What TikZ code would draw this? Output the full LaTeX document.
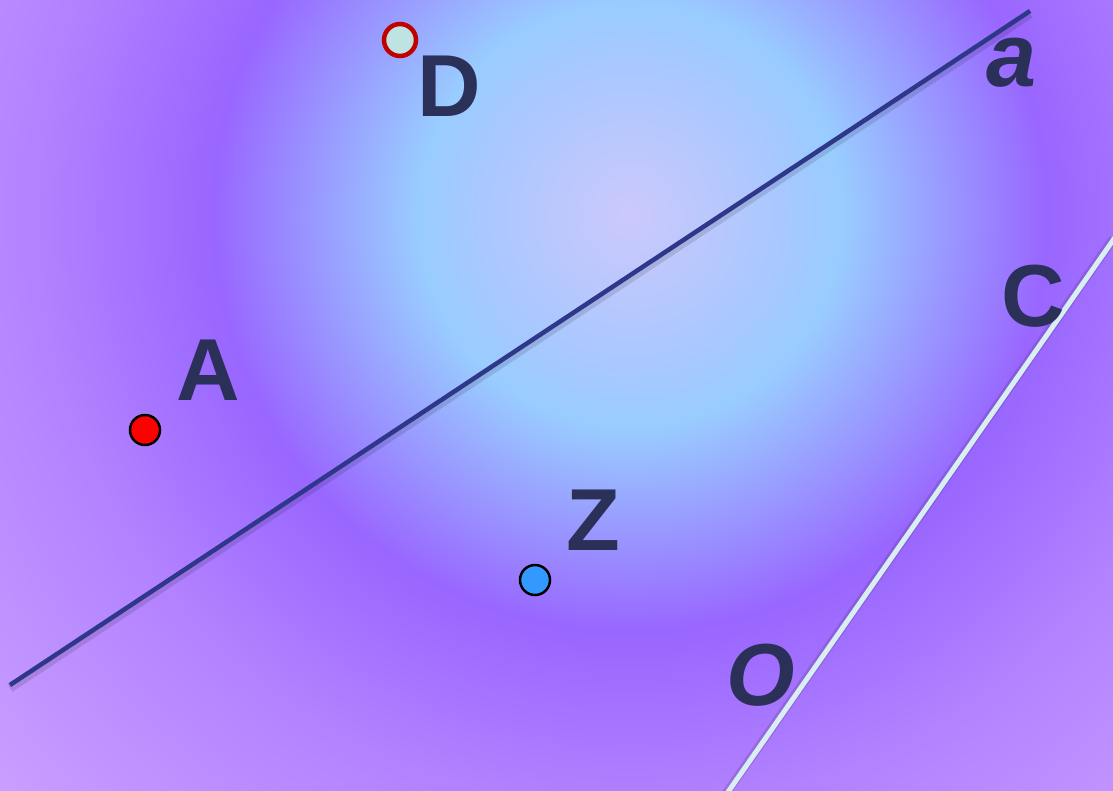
\documentclass[tikz,border=0pt]{standalone}
\usepackage{fontspec}
\setmainfont{Liberation Sans}

\definecolor{labelnavy}{HTML}{2B3058}
\definecolor{linenavy}{HTML}{2E378A}
\definecolor{linepale}{HTML}{D8EEF0}
\definecolor{bgcenter}{HTML}{CCC8FC}
\definecolor{bgpale}{HTML}{A8C8FF}
\definecolor{bgsky}{HTML}{99CCFF}
\definecolor{bgviolet}{HTML}{9966FF}
\definecolor{bgmauve}{HTML}{B282FF}
\definecolor{bgouter}{HTML}{C89EFF}
\definecolor{pointred}{HTML}{FF0000}
\definecolor{pointblue}{HTML}{3399FF}
\definecolor{pointring}{HTML}{C00000}
\definecolor{pointmint}{HTML}{BFE3E0}

\pgfdeclareradialshading{backglow}{\pgfpoint{0bp}{0bp}}{%
  color(0bp)=(bgcenter);
  color(4.2bp)=(bgpale);
  color(5.9bp)=(bgsky);
  color(11.6bp)=(bgviolet);
  color(16.5bp)=(bgmauve);
  color(23.6bp)=(bgouter);
  color(50bp)=(bgouter)}

\begin{document}
\begin{tikzpicture}[
  x=1pt,
  y=-1pt,
  lbl/.style={
      text=labelnavy,
      font=\fontsize{88}{88}\selectfont\bfseries,
      inner sep=0pt
  },
  dot/.style={
      circle,
      draw=black,
      line width=2.5pt,
      minimum size=30pt,
      inner sep=0pt
  },
  ray/.style={
      line width=4.5pt
  }
]

% ==================================================
% Background
% ==================================================

\useasboundingbox (0,0) rectangle (1113,790);
\clip (0,0) rectangle (1113,790);
\fill[shading=backglow] (630,215) circle (900);

% ==================================================
% Line a
% ==================================================

\coordinate (a1) at (10,685);
\coordinate (a2) at (1030,11);

\draw[ray, black, opacity=0.12, line width=9pt]
      ([yshift=-3pt]a1) -- ([yshift=-3pt]a2);
\draw[ray, linenavy]
      (a1) -- (a2);

% ==================================================
% Line through O and C
% ==================================================

\coordinate (o1) at (728,792);
\coordinate (c1) at (1116,236);

\draw[ray, black, opacity=0.12, line width=9pt]
      ([xshift=-3pt,yshift=-3pt]o1) -- ([xshift=-3pt,yshift=-3pt]c1);
\draw[ray, linepale, line width=5pt]
      (o1) -- (c1);

% ==================================================
% Points
% ==================================================

\node[dot, fill=pointred]
      (ptA) at (145,430) {};

\node[dot, fill=pointblue]
      (ptZ) at (535,580) {};

\node[dot, draw=pointring, fill=pointmint,
      line width=4.5pt, minimum size=32pt]
      (ptD) at (400,40) {};

% ==================================================
% Labels
% ==================================================

\node[lbl] (labA) at (208,370) {A};
\node[lbl] (labD) at (449,86) {D};
\node[lbl] (labZ) at (593,520) {Z};
\node[lbl] (labC) at (1033,296) {C};
\node[lbl, font=\fontsize{90}{90}\selectfont\bfseries\itshape]
      (laba) at (1012,63) {a};
\node[lbl, font=\fontsize{88}{88}\selectfont\bfseries\itshape]
      (labO) at (761,675) {O};

\end{tikzpicture}
\end{document}
